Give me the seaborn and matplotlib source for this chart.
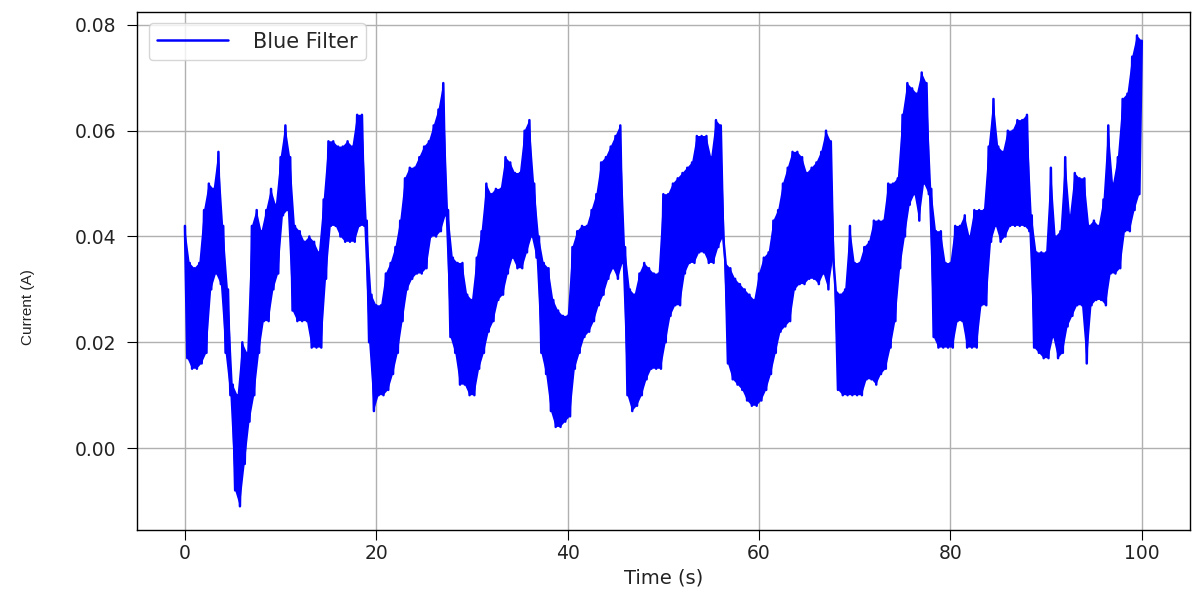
import numpy as np
import pandas as pd
import matplotlib
matplotlib.use("Agg")
import matplotlib.pyplot as plt
import seaborn as sns

# Envelope readings (mA) every 0.5 s from the picture: upper and lower extremes
high = [42, 35, 34, 35, 45, 50, 49, 56, 42, 30,
        12, 10, 20, 18, 42, 45, 41, 45, 49, 46,
        55, 61, 55, 42, 41, 39, 40, 39, 37, 47,
        58, 58, 57, 57, 58, 57, 63, 63, 43, 29,
        27, 27, 33, 35, 38, 43, 51, 53, 53, 55,
        57, 58, 61, 64, 69, 45, 36, 35, 35, 29,
        28, 36, 41, 50, 48, 49, 49, 55, 54, 52,
        52, 60, 62, 50, 40, 35, 34, 28, 26, 25,
        25, 38, 41, 42, 42, 45, 48, 54, 55, 57,
        59, 61, 38, 30, 29, 33, 35, 34, 33, 33,
        48, 48, 50, 51, 52, 53, 54, 59, 59, 59,
        55, 62, 61, 35, 34, 32, 31, 30, 29, 28,
        33, 36, 37, 43, 45, 50, 53, 56, 56, 55,
        52, 53, 54, 56, 60, 58, 30, 29, 30, 42,
        35, 35, 38, 39, 43, 43, 43, 50, 50, 51,
        63, 69, 68, 67, 71, 69, 49, 41, 41, 35,
        35, 42, 42, 44, 40, 45, 45, 45, 57, 66,
        57, 56, 60, 60, 62, 62, 63, 44, 37, 37,
        37, 53, 40, 41, 55, 44, 52, 51, 51, 42,
        43, 42, 47, 61, 50, 55, 66, 67, 74, 78,
        77]
low = [17, 15, 15, 16, 18, 30, 33, 31, 18, 10,
       -8, -11, -3, 5, 10, 18, 24, 24, 30, 33,
       44, 45, 26, 24, 24, 24, 19, 19, 19, 32,
       42, 42, 40, 39, 39, 39, 42, 42, 20, 7,
       10, 10, 11, 14, 18, 24, 30, 32, 33, 33,
       34, 40, 40, 41, 44, 21, 18, 12, 12, 10,
       10, 15, 18, 22, 24, 28, 29, 33, 36, 34,
       34, 37, 40, 36, 18, 14, 7, 4, 4, 5,
       6, 15, 18, 21, 22, 24, 27, 29, 32, 34,
       32, 35, 10, 7, 8, 10, 13, 15, 15, 15,
       20, 25, 27, 27, 33, 35, 35, 37, 37, 35,
       35, 38, 40, 16, 13, 12, 11, 9, 8, 8,
       9, 11, 14, 18, 22, 23, 24, 30, 31, 31,
       32, 32, 31, 33, 30, 36, 11, 10, 10, 10,
       10, 10, 13, 13, 12, 14, 15, 19, 24, 34,
       40, 46, 48, 43, 50, 48, 21, 19, 19, 19,
       19, 24, 24, 19, 19, 19, 27, 27, 39, 42,
       39, 40, 42, 42, 42, 42, 41, 19, 18, 17,
       17, 21, 17, 18, 23, 25, 27, 27, 16, 27,
       28, 28, 27, 33, 33, 34, 41, 41, 45, 48]

# Interleave upper/lower readings into one sampled signal (A)
current = []
for i in range(len(high)):
    current.append(high[i] / 1000.0)
    if i < len(low):
        current.append(low[i] / 1000.0)
time = np.arange(len(current)) * 0.25

df = pd.DataFrame({"Time (s)": time, "Current (A)": current})

sns.set_style("ticks")
plt.rcParams['font.family'] = ['DejaVu Sans']

fig = plt.figure(figsize=(11.92, 5.96), dpi=100)
ax = fig.add_axes([0.115, 0.111, 0.883, 0.869])

# dense band between the upper and lower readings
t_hi = time[0::2]
t_lo = time[1::2]
y_hi = np.array(current[0::2])
y_lo = np.array(current[1::2])
ax.fill(np.r_[t_hi, t_lo[::-1]], np.r_[y_hi, y_lo[::-1]],
        color="blue", linewidth=0, zorder=2)

sns.lineplot(data=df, x="Time (s)", y="Current (A)", color="blue",
             linewidth=1.8, label="Blue Filter", ax=ax, sort=False,
             estimator=None)
ax.grid(True, color="#b0b0b0", linewidth=1.0)
ax.set_axisbelow(True)
for s in ax.spines.values():
    s.set_color("black")
    s.set_linewidth(1.0)
ax.tick_params(axis="both", labelsize=13.5, length=7, color="black",
               labelcolor="#222222")
ax.tick_params(axis="y", pad=8)
ax.set_xlabel("Time (s)", fontsize=14, color="#222222")
ax.set_ylabel("Current (A)", fontsize=11, color="#222222",
              family=["Liberation Sans", "DejaVu Sans"])
ax.yaxis.set_label_coords(-0.097, 0.43)
ax.set_yticks([0.00, 0.02, 0.04, 0.06, 0.08])
ax.set_xticks([0, 20, 40, 60, 80, 100])
leg = ax.legend(loc="upper left", fontsize=15, handlelength=3.4,
                frameon=True, borderaxespad=0.55, handletextpad=1.2)
leg.get_frame().set_edgecolor("#cccccc")
fig.savefig("out.png", dpi=100)
